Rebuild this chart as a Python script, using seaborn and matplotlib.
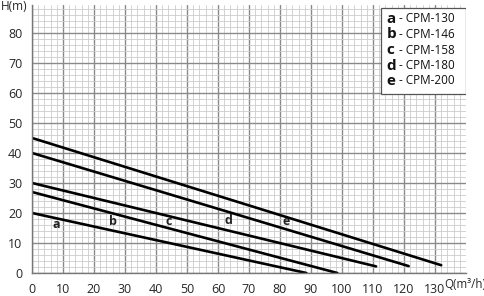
import matplotlib
matplotlib.use("Agg")
import matplotlib.pyplot as plt
import seaborn as sns
import pandas as pd
from matplotlib.patches import Rectangle
from matplotlib.ticker import MultipleLocator

# Data: start / end points of each pump curve
curve_ids = ["a", "b", "c", "d", "e"]
models = ["CPM-130", "CPM-146", "CPM-158", "CPM-180", "CPM-200"]
q_start = [0, 0, 0, 0, 0]
h_start = [20, 27, 30, 40, 45]
q_end = [88.5, 98.5, 111, 121.5, 132]
h_end = [0, 0, 2.2, 2.3, 2.6]
label_q = [8, 26, 44, 63.5, 82]
label_h = [16, 17, 17, 17.5, 17]

x_ticks = list(range(0, 140, 10))
y_ticks = list(range(0, 90, 10))

rows = []
for cid, qs, hs, qe, he in zip(curve_ids, q_start, h_start, q_end, h_end):
    rows.append({"curve": cid, "Q": qs, "H": hs})
    rows.append({"curve": cid, "Q": qe, "H": he})
df = pd.DataFrame(rows)

sns.set_style("white")
plt.rcParams["font.family"] = ["Open Sans", "DejaVu Sans"]

fig = plt.figure(figsize=(4.85, 2.96), dpi=100)
ax = fig.add_axes([32 / 485, 1 - 273 / 296, (466 - 32) / 485, (273 - 5) / 296])

sns.lineplot(data=df, x="Q", y="H", units="curve", estimator=None,
             color="black", linewidth=1.9, ax=ax, legend=False, sort=False)

ax.set_xlim(0, 140)
ax.set_ylim(0, 89.3)
ax.xaxis.set_major_locator(MultipleLocator(10))
ax.yaxis.set_major_locator(MultipleLocator(10))
ax.xaxis.set_minor_locator(MultipleLocator(2))
ax.yaxis.set_minor_locator(MultipleLocator(2))
ax.grid(which="major", color="#8a8a8a", linewidth=1.0)
ax.grid(which="minor", color="#cccccc", linewidth=0.6)
ax.set_axisbelow(True)
ax.set_xticks(x_ticks)
ax.set_yticks(y_ticks)
ax.tick_params(axis="both", which="major", labelsize=9, length=4,
               color="#555555", width=1.0, pad=3)
ax.tick_params(axis="both", which="minor", length=0)
ax.set_xlabel("")
ax.set_ylabel("")
for s in ["top", "right"]:
    ax.spines[s].set_visible(False)
for s in ["left", "bottom"]:
    ax.spines[s].set_color("#777777")
    ax.spines[s].set_linewidth(1.0)

for cid, lq, lh in zip(curve_ids, label_q, label_h):
    ax.text(lq, lh, cid, fontsize=9, fontweight="bold", ha="center",
            va="center", color="#222222")

# legend box
ax.add_patch(Rectangle((112.5, 59.7), 27.4, 28.6, facecolor="white",
                       edgecolor="#555555", linewidth=0.9, zorder=5))
leg_y = [84.7, 79.5, 74.3, 69.1, 64.0]
for cid, model, ly in zip(curve_ids, models, leg_y):
    ax.text(114.3, ly, cid, fontsize=11, fontweight="bold", ha="left",
            va="center", color="#111111", zorder=6)
    ax.text(118.4, ly, "- " + model, fontsize=8.5, ha="left",
            va="center", color="#111111", zorder=6)

fig.text(1 / 485, 1 - 7 / 296, "H(m)", fontsize=8.5, ha="left", va="center")
fig.text(444 / 485, 1 - 285 / 296, "Q(m³/h)", fontsize=8.3, ha="left",
         va="center")

fig.savefig("out.png", dpi=100)
